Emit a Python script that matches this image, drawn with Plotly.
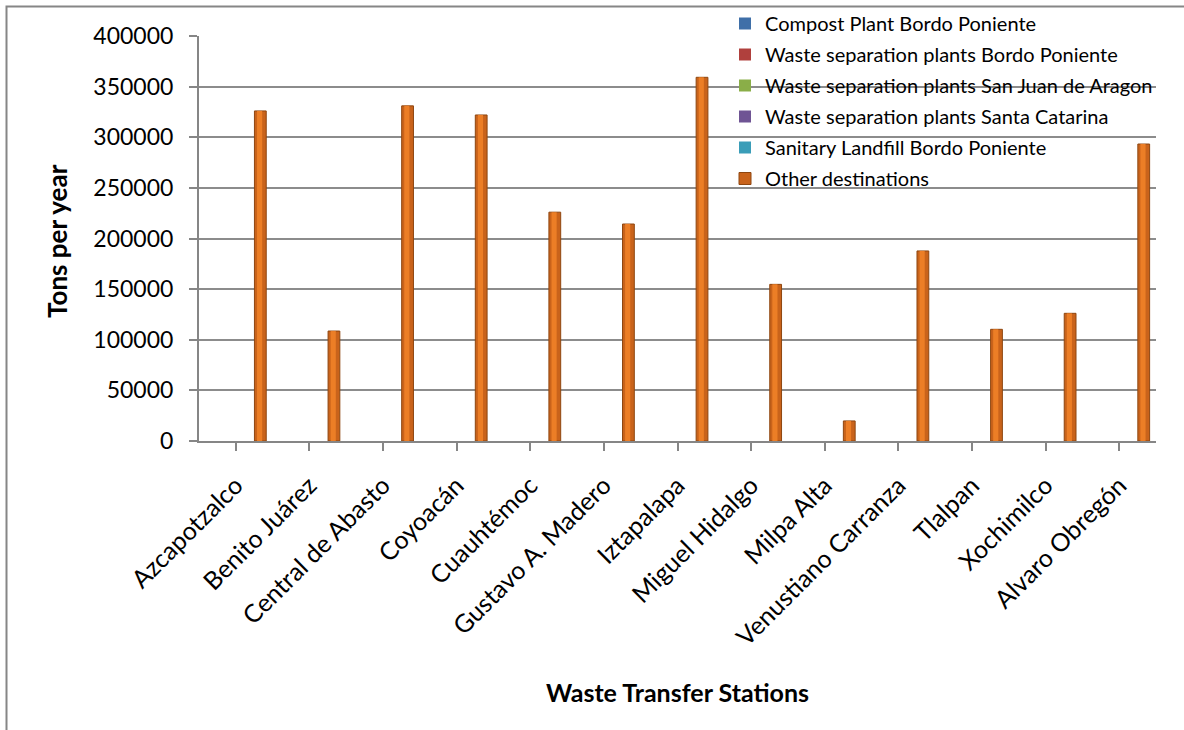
import plotly.graph_objects as go

# Waste transfer stations (x categories)
stations = [
    "Azcapotzalco", "Benito Juárez", "Central de Abasto", "Coyoacán",
    "Cuauhtémoc", "Gustavo A. Madero", "Iztapalapa", "Miguel Hidalgo",
    "Milpa Alta", "Venustiano Carranza", "Tlalpan", "Xochimilco",
    "Alvaro Obregón",
]

# Tons per year by destination
compost_bordo_poniente = [0, 0, 0, 0, 0, 0, 0, 0, 0, 0, 0, 0, 0]
separation_bordo_poniente = [0, 0, 0, 0, 0, 0, 0, 0, 0, 0, 0, 0, 0]
separation_san_juan_aragon = [0, 0, 0, 0, 0, 0, 0, 0, 0, 0, 0, 0, 0]
separation_santa_catarina = [0, 0, 0, 0, 0, 0, 0, 0, 0, 0, 0, 0, 0]
landfill_bordo_poniente = [0, 0, 0, 0, 0, 0, 0, 0, 0, 0, 0, 0, 0]
other_destinations = [326000, 108600, 331000, 322000, 226000, 214300, 359200,
                      154700, 19800, 187700, 110300, 126100, 293300]

series_names = [
    "Compost Plant Bordo Poniente",
    "Waste separation plants Bordo Poniente",
    "Waste separation plants San Juan de Aragon",
    "Waste separation plants Santa Catarina",
    "Sanitary Landfill Bordo Poniente",
    "Other destinations",
]
series_values = [
    compost_bordo_poniente, separation_bordo_poniente,
    separation_san_juan_aragon, separation_santa_catarina,
    landfill_bordo_poniente, other_destinations,
]
fill_colors = ["#3F6FA8", "#B0403D", "#8AAE48", "#6F5494", "#3A9DB8", "#C9631B"]
edge_colors = ["#2C4D75", "#772C2A", "#5F7530", "#4D3B62", "#276A7C", "#8E4610"]
highlight_color = "#EC7E26"

FONT = "Lato"
W, H = 1184, 730
ML, MR, MT, MB = 199, 28, 36, 289
PW, PH = W - ML - MR, H - MT - MB


def px_x(px):
    return (px - ML) / PW


def px_y(py):
    return 1 - (py - MT) / PH


slot = 0.1333      # cluster slot per series, in category units
bar_w = 0.16       # drawn bar width, in category units
hi_w = 0.07        # width of the lit centre strip on each bar

xs = list(range(len(stations)))
fig = go.Figure()
for i, (name, vals) in enumerate(zip(series_names, series_values)):
    centre = (i - 2.5) * slot
    fig.add_trace(go.Bar(
        x=xs, y=vals, name=name, legendgroup=f"g{i}",
        offset=centre - bar_w / 2, width=bar_w,
        marker=dict(color=fill_colors[i],
                    line=dict(color=edge_colors[i], width=1 if i == 5 else 0)),
    ))

# lit centre strip giving the bars a rounded look
fig.add_trace(go.Bar(
    x=xs, y=other_destinations, showlegend=False, hoverinfo="skip",
    offset=2.5 * slot - hi_w / 2 - 0.01, width=hi_w,
    marker=dict(color=highlight_color, line=dict(width=0)),
))

fig.update_layout(
    width=W, height=H,
    margin=dict(l=ML, r=MR, t=MT, b=MB, autoexpand=False),
    paper_bgcolor="white", plot_bgcolor="white",
    font=dict(family=FONT, size=20, color="#000000"),
    barmode="group",
    showlegend=True,
    legend=dict(
        x=px_x(725), y=px_y(4), xanchor="left", yanchor="top",
        bgcolor="rgba(0,0,0,0)", font=dict(size=20, family=FONT),
        tracegroupgap=2, itemclick=False,
    ),
    xaxis=dict(
        tickmode="array", tickvals=xs, ticktext=stations,
        range=[-0.5, len(stations) - 0.5],
        tickangle=-45, tickfont=dict(size=25),
        showline=True, linecolor="#868686", linewidth=2,
        ticks="outside", tickson="boundaries", ticklen=8, tickcolor="#868686",
        tickwidth=2, showgrid=False, zeroline=False, ticklabelstandoff=10,
    ),
    yaxis=dict(
        range=[0, 400000], dtick=50000, tickformat="d",
        tickfont=dict(size=23),
        showline=True, linecolor="#868686", linewidth=2,
        ticks="outside", ticklen=8, tickcolor="#868686", tickwidth=2,
        showgrid=True, gridcolor="#8C8C8C", gridwidth=2,
        zeroline=False, ticklabelstandoff=11,
    ),
    annotations=[
        dict(text="<b>Tons per year</b>", xref="paper", yref="paper",
             x=px_x(57), y=px_y(241), textangle=-90, showarrow=False,
             font=dict(size=26, family=FONT), xanchor="center", yanchor="middle"),
        dict(text="<b>Waste Transfer Stations</b>", xref="paper", yref="paper",
             x=px_x(677), y=px_y(692), showarrow=False,
             font=dict(size=25, family=FONT), xanchor="center", yanchor="middle"),
    ],
    shapes=[
        dict(type="rect", xref="paper", yref="paper",
             x0=px_x(6.5), x1=px_x(1200), y0=px_y(745), y1=px_y(6.5),
             line=dict(color="#868686", width=2), fillcolor="rgba(0,0,0,0)",
             layer="below"),
    ],
)

fig.write_html("out.html")
